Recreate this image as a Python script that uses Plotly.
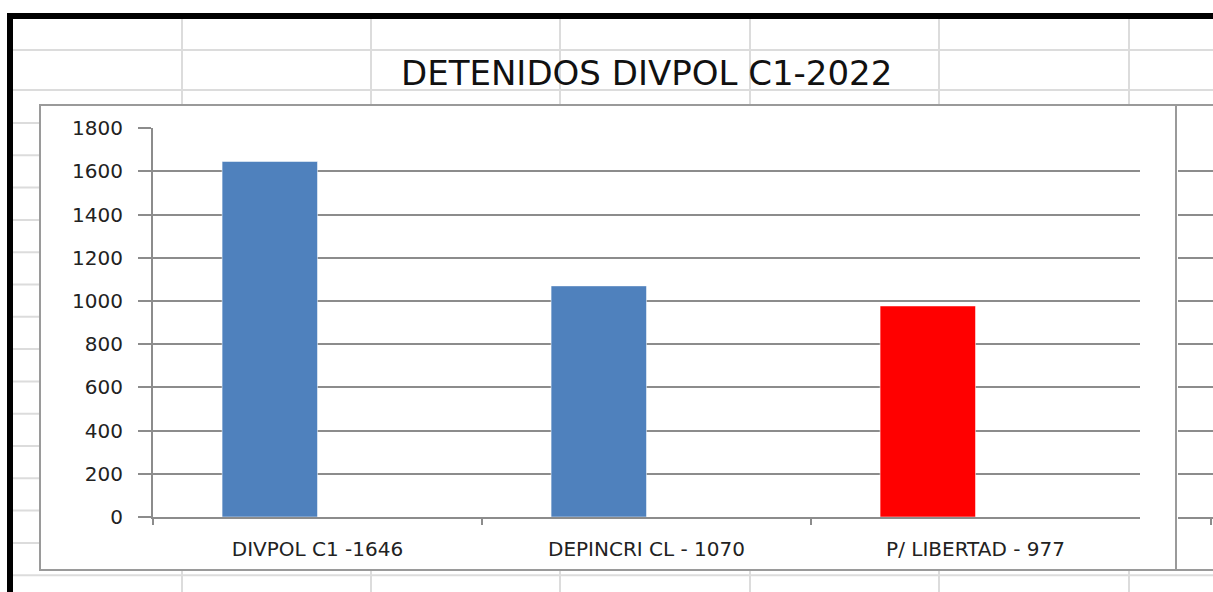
import plotly.graph_objects as go

# chart data
categories = ["DIVPOL C1 -1646", "DEPINCRI CL - 1070", "P/ LIBERTAD - 977"]
detenidos = [1646, 1070, 977]
bar_colors = ["#4F81BD", "#4F81BD", "#FF0000"]
y_ticks = [0, 200, 400, 600, 800, 1000, 1200, 1400, 1600, 1800]

W, H = 1213, 592
FONT = "DejaVu Sans"


def px_x(x):
    return x / W


def px_y(y):
    return 1 - y / H


def sheet_shapes():
    """Spreadsheet grid behind the chart, black selection border and chart boxes."""
    shapes = []
    grid = dict(color="#dcdcdc", width=2)
    # sheet columns
    for x in [182, 371, 560, 750, 939, 1129]:
        shapes.append(dict(type="line", xref="paper", yref="paper", layer="below",
                           x0=px_x(x), x1=px_x(x), y0=px_y(19), y1=0, line=grid))
    # sheet rows
    rows = [50, 90] + [123 + 32.3 * k for k in range(15)]
    for y in rows:
        shapes.append(dict(type="line", xref="paper", yref="paper", layer="below",
                           x0=px_x(13), x1=1, y0=px_y(y), y1=px_y(y), line=grid))
    # black border, top and left
    shapes.append(dict(type="rect", xref="paper", yref="paper", layer="below",
                       x0=px_x(7), x1=1, y0=px_y(19), y1=px_y(13),
                       fillcolor="black", line=dict(width=0)))
    shapes.append(dict(type="rect", xref="paper", yref="paper", layer="below",
                       x0=px_x(7), x1=px_x(13), y0=0, y1=px_y(13),
                       fillcolor="black", line=dict(width=0)))
    # chart boxes (main one and the one that peeks in on the right)
    box = dict(color="#9a9a9a", width=2)
    shapes.append(dict(type="rect", xref="paper", yref="paper", layer="below",
                       x0=px_x(40), x1=px_x(1176), y0=px_y(570), y1=px_y(105),
                       fillcolor="white", line=box))
    shapes.append(dict(type="rect", xref="paper", yref="paper", layer="below",
                       x0=px_x(1176), x1=1.02, y0=px_y(570), y1=px_y(105),
                       fillcolor="white", line=box))
    return shapes


fig = go.Figure()

fig.add_trace(go.Bar(
    x=categories,
    y=detenidos,
    marker=dict(color=bar_colors, line=dict(color="rgba(255,255,255,0.5)", width=1)),
    width=0.29,
    offset=-0.29,
    showlegend=False,
    hoverinfo="x+y"
))

# empty axes for the neighbouring chart on the right edge
fig.add_trace(go.Bar(x=["a"], y=[None], xaxis="x2", yaxis="y2", showlegend=False))

axis_gray = "#8c8c8c"

fig.update_layout(
    width=W,
    height=H,
    margin=dict(l=0, r=0, t=0, b=0, autoexpand=False),
    paper_bgcolor="white",
    plot_bgcolor="rgba(0,0,0,0)",
    font=dict(family=FONT, color="#222222"),
    shapes=sheet_shapes(),
    xaxis=dict(
        domain=[px_x(153), px_x(1140)],
        automargin=False,
        showline=True, linecolor=axis_gray, linewidth=2,
        ticks="outside", tickson="boundaries", ticklen=6, tickwidth=2, tickcolor=axis_gray,
        tickfont=dict(family=FONT, size=20, color="#222222"),
        ticklabelstandoff=13,
        showgrid=False,
    ),
    yaxis=dict(
        domain=[px_y(517), px_y(128)],
        automargin=False,
        range=[0, 1801],
        tickvals=y_ticks,
        showline=True, linecolor=axis_gray, linewidth=2,
        ticks="outside", ticklen=13, tickwidth=2, tickcolor=axis_gray,
        showgrid=True, gridcolor=axis_gray, gridwidth=1.5,
        zeroline=False,
        tickfont=dict(family=FONT, size=20, color="#222222"),
        ticklabelstandoff=11,
    ),
    xaxis2=dict(
        domain=[px_x(1178), 1], anchor="y2",
        automargin=False,
        range=[-0.94, 0.06],
        showline=True, linecolor=axis_gray, linewidth=2,
        ticks="outside", ticklen=6, tickwidth=2, tickcolor=axis_gray,
        showticklabels=False, showgrid=False,
    ),
    yaxis2=dict(
        domain=[px_y(517), px_y(128)], anchor="x2",
        automargin=False,
        range=[0, 1801], tickvals=y_ticks,
        showgrid=True, gridcolor=axis_gray, gridwidth=1.5,
        showticklabels=False, zeroline=False,
    ),
    annotations=[dict(
        text="DETENIDOS DIVPOL C1-2022",
        xref="paper", yref="paper",
        x=px_x(646), y=px_y(73),
        xanchor="center", yanchor="middle",
        showarrow=False,
        font=dict(family=FONT, size=34, color="#111111"),
    )],
)

# drop the page's default body margin so the figure sits at the window's corner
fig.write_html(
    "out.html",
    config={"displayModeBar": False},
    post_script="document.body.style.margin='0';document.body.style.overflow='hidden';",
)
